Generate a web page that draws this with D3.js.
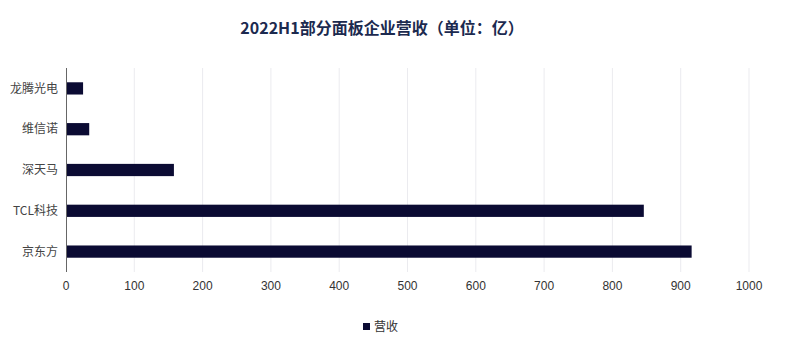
<!DOCTYPE html>
<html lang="zh">
<head>
    <meta charset="UTF-8">
    <title>2022H1部分面板企业营收</title>
    <script src="https://d3js.org/d3.v7.min.js"></script>
    <style>
        body { margin: 0; background: #fff; }
        svg text { font-family: "Noto Sans CJK SC", "Liberation Sans", sans-serif; }
        svg text.tick-num { font-family: "Liberation Sans", Arial, sans-serif; }
    </style>
</head>
<body>
    <div id="chart"></div>
    <script>
        const companies = ["龙腾光电", "维信诺", "深天马", "TCL科技", "京东方"];
        const revenue = [25, 34, 158, 846, 916];
        const xTicks = [0, 100, 200, 300, 400, 500, 600, 700, 800, 900, 1000];
        const seriesName = "营收";

        const width = 800, height = 346;
        const margin = {top: 68, right: 51, bottom: 74, left: 66};

        const svg = d3.select("#chart")
            .append("svg")
            .attr("width", width)
            .attr("height", height);

        // title
        svg.append("text")
            .attr("x", 382)
            .attr("y", 34)
            .attr("text-anchor", "middle")
            .attr("font-size", 16)
            .attr("font-weight", "bold")
            .attr("fill", "#1c2a4f")
            .text("2022H1部分面板企业营收（单位：亿）");

        const x = d3.scaleLinear()
            .domain([0, 1000])
            .range([margin.left, width - margin.right]);

        const y = d3.scaleBand()
            .domain(companies)
            .range([margin.top, height - margin.bottom])
            .paddingInner(0.7)
            .paddingOuter(0.35);

        // grid lines
        svg.append("g")
            .selectAll("line")
            .data(xTicks.slice(1))
            .join("line")
            .attr("x1", d => x(d))
            .attr("x2", d => x(d))
            .attr("y1", margin.top)
            .attr("y2", height - margin.bottom)
            .attr("stroke", "#ebebef")
            .attr("stroke-width", 1);

        // bars
        svg.append("g")
            .selectAll("rect")
            .data(companies)
            .join("rect")
            .attr("x", x(0))
            .attr("y", d => y(d))
            .attr("width", (d, i) => x(revenue[i]) - x(0))
            .attr("height", y.bandwidth())
            .attr("fill", "#0b0b33");

        // left axis line
        svg.append("line")
            .attr("x1", x(0) + 0.5)
            .attr("x2", x(0) + 0.5)
            .attr("y1", margin.top)
            .attr("y2", height - margin.bottom)
            .attr("stroke", "#666")
            .attr("stroke-width", 1);

        // category labels
        svg.append("g")
            .selectAll("text")
            .data(companies)
            .join("text")
            .attr("x", 58)
            .attr("y", d => y(d) + y.bandwidth() / 2)
            .attr("dy", "0.35em")
            .attr("text-anchor", "end")
            .attr("font-size", 12)
            .attr("fill", "#444")
            .text(d => d);

        // x tick labels
        svg.append("g")
            .selectAll("text")
            .data(xTicks)
            .join("text")
            .attr("class", "tick-num")
            .attr("x", d => x(d))
            .attr("y", 290)
            .attr("text-anchor", "middle")
            .attr("font-size", 12)
            .attr("fill", "#333")
            .text(d => d);

        // legend
        const legend = svg.append("g").attr("transform", "translate(363, 327)");
        legend.append("rect")
            .attr("x", 0)
            .attr("y", -4)
            .attr("width", 7)
            .attr("height", 7)
            .attr("fill", "#0b0b33");
        legend.append("text")
            .attr("x", 11)
            .attr("y", 0)
            .attr("dy", "0.35em")
            .attr("font-size", 12)
            .attr("fill", "#333")
            .text(seriesName);
    </script>
</body>
</html>
